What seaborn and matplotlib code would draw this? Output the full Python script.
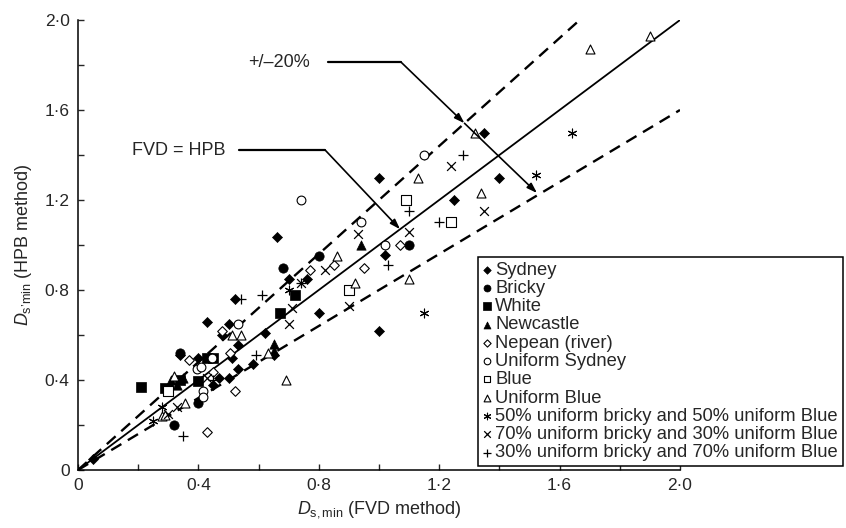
import matplotlib
matplotlib.use("Agg")
import matplotlib.pyplot as plt
import seaborn as sns
import pandas as pd

# ---- data ----
sydney_x = [0.05, 0.34, 0.40, 0.43, 0.45, 0.47, 0.48, 0.50, 0.50, 0.51, 0.52, 0.53, 0.53, 0.58, 0.62, 0.65, 0.66, 0.70, 0.76, 0.80, 1.00, 1.00, 1.02, 1.25, 1.35, 1.40]
sydney_y = [0.05, 0.51, 0.50, 0.66, 0.38, 0.41, 0.60, 0.65, 0.41, 0.50, 0.76, 0.555, 0.45, 0.47, 0.61, 0.51, 1.035, 0.85, 0.85, 0.70, 1.30, 0.62, 0.955, 1.20, 1.50, 1.30]
bricky_x = [0.32, 0.34, 0.40, 0.68, 0.80, 1.10]
bricky_y = [0.20, 0.52, 0.30, 0.90, 0.95, 1.00]
white_x = [0.21, 0.29, 0.34, 0.40, 0.43, 0.45, 0.67, 0.72]
white_y = [0.37, 0.365, 0.40, 0.395, 0.50, 0.50, 0.70, 0.78]
newcastle_x = [0.31, 0.33, 0.35, 0.65, 0.65, 0.94]
newcastle_y = [0.40, 0.38, 0.41, 0.56, 0.53, 1.00]
nepean_x = [0.37, 0.43, 0.45, 0.48, 0.505, 0.52, 0.77, 0.85, 0.95, 1.07]
nepean_y = [0.49, 0.17, 0.435, 0.62, 0.52, 0.35, 0.89, 0.91, 0.90, 1.00]
usydney_x = [0.395, 0.41, 0.415, 0.415, 0.445, 0.53, 0.74, 0.94, 1.02, 1.15]
usydney_y = [0.45, 0.46, 0.35, 0.325, 0.50, 0.65, 1.20, 1.10, 1.00, 1.40]
blue_x = [0.30, 0.90, 1.09, 1.24]
blue_y = [0.35, 0.80, 1.20, 1.10]
ublue_x = [0.28, 0.29, 0.32, 0.355, 0.51, 0.54, 0.63, 0.69, 0.86, 0.92, 1.10, 1.13, 1.32, 1.34, 1.70, 1.90]
ublue_y = [0.24, 0.245, 0.42, 0.30, 0.60, 0.60, 0.52, 0.40, 0.95, 0.83, 0.85, 1.30, 1.50, 1.23, 1.87, 1.93]
mix50_x = [0.25, 0.28, 0.70, 1.15, 1.52, 1.64]
mix50_y = [0.22, 0.28, 0.80, 0.70, 1.31, 1.50]
mix70_x = [0.30, 0.33, 0.43, 0.70, 0.71, 0.74, 0.82, 0.90, 0.93, 1.10, 1.24, 1.35]
mix70_y = [0.25, 0.28, 0.41, 0.65, 0.72, 0.83, 0.89, 0.73, 1.05, 1.06, 1.35, 1.15]
mix30_x = [0.35, 0.45, 0.54, 0.59, 0.61, 0.74, 1.03, 1.10, 1.20, 1.28]
mix30_y = [0.15, 0.40, 0.76, 0.51, 0.78, 0.83, 0.91, 1.15, 1.10, 1.40]

labels = ["Sydney", "Bricky", "White", "Newcastle", "Nepean (river)", "Uniform Sydney",
          "Blue", "Uniform Blue", "50% uniform bricky and 50% uniform Blue",
          "70% uniform bricky and 30% uniform Blue", "30% uniform bricky and 70% uniform Blue"]

tick_values = [0, 0.4, 0.8, 1.2, 1.6, 2.0]
tick_labels = ["0", "0\u00b74", "0\u00b78", "1\u00b72", "1\u00b76", "2\u00b70"]

# reference lines: y = ratio * x
line_ratio = [1.0, 1.2, 0.8]
line_xmax = [2.0, 2.0 / 1.2, 2.0]

# ---- style ----
sns.set_style("ticks")
plt.rcParams["font.family"] = ["Liberation Sans", "DejaVu Sans"]
plt.rcParams["mathtext.fontset"] = "custom"
plt.rcParams["mathtext.rm"] = "Liberation Sans"
plt.rcParams["mathtext.it"] = "Liberation Sans:italic"

fig = plt.figure(figsize=(8.46, 5.28), dpi=100)
ax = fig.add_axes([78 / 846, 58 / 528, 602 / 846, 450 / 528])

# reference lines
for r, xm in zip(line_ratio, line_xmax):
    d = pd.DataFrame({"x": [0, xm], "y": [0, r * xm]})
    if r == 1.0:
        sns.lineplot(data=d, x="x", y="y", ax=ax, color="black", lw=1.3, zorder=2)
    else:
        sns.lineplot(data=d, x="x", y="y", ax=ax, color="black", lw=1.7,
                     linestyle=(0, (5, 3.2)), zorder=2)

series = [
    (sydney_x, sydney_y, dict(marker="D", s=26, facecolor="black", edgecolor="black", linewidth=0.5)),
    (bricky_x, bricky_y, dict(marker="o", s=45, facecolor="black", edgecolor="black", linewidth=0.5)),
    (white_x, white_y, dict(marker="s", s=48, facecolor="black", edgecolor="black", linewidth=0.5)),
    (newcastle_x, newcastle_y, dict(marker="^", s=45, facecolor="black", edgecolor="black", linewidth=0.5)),
    (nepean_x, nepean_y, dict(marker="D", s=24, facecolor="white", edgecolor="black", linewidth=0.8)),
    (usydney_x, usydney_y, dict(marker="o", s=40, facecolor="white", edgecolor="black", linewidth=0.8)),
    (blue_x, blue_y, dict(marker="s", s=42, facecolor="white", edgecolor="black", linewidth=0.8)),
    (ublue_x, ublue_y, dict(marker="^", s=42, facecolor="white", edgecolor="black", linewidth=0.8)),
    (mix50_x, mix50_y, dict(marker=(6, 2, 0), s=40, color="black", linewidth=0.8)),
    (mix70_x, mix70_y, dict(marker="x", s=40, color="black", linewidth=0.9)),
    (mix30_x, mix30_y, dict(marker="+", s=50, color="black", linewidth=0.9)),
]
for (xs, ys, kw), lab in zip(series, labels):
    sns.scatterplot(x=xs, y=ys, ax=ax, label=lab, zorder=3, clip_on=False, **kw)

handles, labs = ax.get_legend_handles_labels()
if ax.get_legend() is not None:
    ax.get_legend().remove()

ax.set_xlim(0, 2.0)
ax.set_ylim(0, 2.0)
ax.set_xticks(tick_values)
ax.set_xticklabels(tick_labels)
ax.set_yticks(tick_values)
ax.set_yticklabels(tick_labels)
ax.set_xticks([0.2, 0.6, 1.0, 1.4, 1.8], minor=True)
ax.set_yticks([0.2, 0.6, 1.0, 1.4, 1.8], minor=True)
ax.tick_params(which="both", direction="in", length=4, width=1.0, labelsize=12.5, pad=6)
sns.despine(ax=ax)
for sp in ["left", "bottom"]:
    ax.spines[sp].set_linewidth(1.1)
    ax.spines[sp].set_color("black")

ax.set_xlabel("$D_{\\mathrm{s,min}}$ (FVD method)", fontsize=13, labelpad=4)
ax.set_ylabel("$D_{\\mathrm{s\u2019min}}$ (HPB method)", fontsize=13, labelpad=8)

# annotations
ax.plot([0.535, 0.821], [1.422, 1.422], color="black", lw=1.6, clip_on=False)
ax.text(0.49, 1.422, "FVD = HPB", fontsize=13, ha="right", va="center")
ax.annotate("", xy=(1.07, 1.07), xytext=(0.821, 1.422),
            arrowprops=dict(arrowstyle="-|>,head_length=0.6,head_width=0.2", color="black", lw=1.2,
                            shrinkA=0, shrinkB=0))

ax.plot([0.831, 1.073], [1.813, 1.813], color="black", lw=1.6, clip_on=False)
ax.text(0.77, 1.813, "+/\u201320%", fontsize=13, ha="right", va="center")
ax.annotate("", xy=(1.284, 1.541), xytext=(1.073, 1.813),
            arrowprops=dict(arrowstyle="-|>,head_length=0.6,head_width=0.2", color="black", lw=1.2,
                            shrinkA=0, shrinkB=0))
ax.annotate("", xy=(1.525, 1.231), xytext=(1.284, 1.541),
            arrowprops=dict(arrowstyle="-|>,head_length=0.6,head_width=0.2", color="black", lw=1.2,
                            shrinkA=0, shrinkB=0))

leg = fig.legend(handles, labs, loc="upper left", bbox_to_anchor=(478 / 846, 1 - 257 / 528),
                 fontsize=13.2, frameon=True, fancybox=False, edgecolor="black",
                 borderaxespad=0, borderpad=0.25, handlelength=0.5, handletextpad=0.2,
                 labelspacing=0.07, scatterpoints=1, markerscale=0.75)
leg.get_frame().set_linewidth(1.1)
leg.get_frame().set_alpha(1)

fig.savefig("out.png", dpi=100)
